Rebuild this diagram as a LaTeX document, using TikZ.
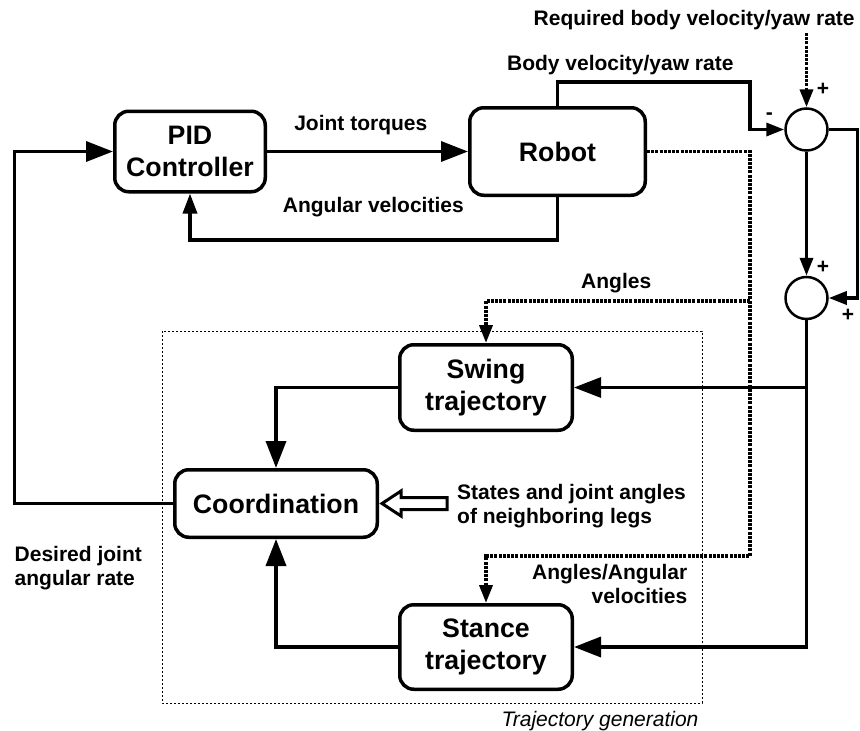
\documentclass[tikz,border=0pt]{standalone}
\usepackage{fontspec}
\setmainfont{Liberation Sans}
\usetikzlibrary{arrows.meta}

\newcommand{\blkfont}{\fontsize{26.7}{32}\selectfont\bfseries}
\newcommand{\lblfont}{\fontsize{21}{24}\selectfont\bfseries}

\tikzset{
  blk/.style={draw, line width=3.5pt, rounded corners=14pt, align=center,
    font=\blkfont, inner sep=0pt, fill=white},
  sumnode/.style={draw, circle, line width=2.5pt, minimum size=42pt,
    inner sep=0pt, fill=white},
  wire/.style={line width=3.5pt},
  sig/.style={line width=3.7pt, dash pattern=on 3pt off 1.2pt},
  bigtip/.style={-{Triangle[length=27pt,width=20pt]}},
  midtip/.style={-{Triangle[length=20pt,width=14pt]}},
  smalltip/.style={-{Triangle[length=18pt,width=13pt]}},
  lbl/.style={font=\lblfont, inner sep=0pt},
  sign/.style={font=\lblfont, inner sep=0pt},
  groupframe/.style={line width=1pt, dash pattern=on 2pt off 2pt},
  hollow/.style={line width=3pt, fill=white, line join=miter},
}

\begin{document}
\begin{tikzpicture}[x=1pt, y=-1pt]
  \useasboundingbox (0,0) rectangle (860,731);

  % trajectory generation group
  \draw[groupframe] (162,331) rectangle (702,703);
  \node[anchor=base, inner sep=0pt, font=\fontsize{21}{24}\selectfont\itshape]
    (tglabel) at (600,726) {Trajectory generation};

  % blocks
  \node[blk, minimum width=150.5pt, minimum height=80.5pt] (pid) at (190,151.5) {PID\\Controller};
  \node[blk, minimum width=175.5pt, minimum height=87.5pt] (robot) at (557.5,151.5) {Robot};
  \node[blk, minimum width=172.5pt, minimum height=85.5pt] (swing) at (486,387.5) {Swing\\trajectory};
  \node[blk, minimum width=172.5pt, minimum height=84.5pt] (stance) at (486,647) {Stance\\trajectory};
  \node[blk, minimum width=202.5pt, minimum height=67.5pt] (coord) at (276,503.5) {Coordination};

  % summing junctions
  \node[sumnode] (sum1) at (806.5,129.5) {};
  \node[sumnode] (sum2) at (806.5,298) {};

  % routing points
  \coordinate (bvtop) at (750,82);
  \coordinate (reqsrc) at (806.5,33);
  \coordinate (rtcorner) at (857.5,298);
  \coordinate (lfcorner) at (14.5,151.5);
  \coordinate (fbk) at (190,240);
  \coordinate (dmid) at (750,300.7);
  \coordinate (dbot) at (750,556);

  % control loop
  \draw[wire, bigtip] (pid.east) -- (robot.west);
  \draw[wire, midtip] (robot.south) |- (fbk) -- (pid.south);
  \draw[wire, smalltip] (robot.north) |- (bvtop) |- (sum1.west);
  \draw[sig, smalltip] (reqsrc) -- (sum1.north);
  \draw[wire, smalltip] (sum1.south) -- (sum2.north);
  \draw[wire, smalltip] (sum1.east) -| (rtcorner) -- (sum2.east);
  \draw[wire, bigtip] (sum2.south) |- (stance.east);
  \draw[line width=3pt, bigtip] (sum2.south |- swing.east) -- (swing.east);
  \draw[wire, bigtip] (swing.west) -| (coord.north);
  \draw[wire, bigtip] (stance.west) -| (coord.south);
  \draw[wire, bigtip] (coord.west) -| (lfcorner) -- (pid.west);

  % sensor signals
  \draw[sig, smalltip] (robot.east) -| (dbot) -| (stance.north);
  \draw[sig, smalltip] (dmid) -| (swing.north);

  % input from neighbouring legs
  \draw[hollow] (coord.east) ++(3,0) -- ++(19,-12.5) -- ++(0,6.5) -- ++(46,0)
    -- ++(0,12) -- ++(-46,0) -- ++(0,6.5) -- cycle;

  % labels
  \node[lbl, anchor=base] (ljt) at (360.8,130.7) {Joint torques};
  \node[lbl, anchor=base] (lav) at (373.3,212) {Angular velocities};
  \node[lbl, anchor=base] (lbv) at (620.3,70) {Body velocity/yaw rate};
  \node[lbl, anchor=base] (lreq) at (694.2,25.7) {Required body velocity/yaw rate};
  \node[lbl, anchor=base] (lang) at (616.2,288.3) {Angles};
  \node[lbl, anchor=west, align=left] (lnb) at (457,506) {States and joint angles\\of neighboring legs};
  \node[lbl, anchor=east, align=right] (laav) at (687.5,583.7) {Angles/Angular\\velocities};
  \node[lbl, anchor=west, align=left] (ldes) at (14.5,568.3) {Desired joint\\angular rate};

  % signs at the summing junctions
  \node[sign] (s1p) at (823,89) {+};
  \node[sign] (s1m) at (769.3,116) {-};
  \node[sign] (s2p) at (823,267) {+};
  \node[sign] (s2q) at (848,315) {+};
\end{tikzpicture}
\end{document}
